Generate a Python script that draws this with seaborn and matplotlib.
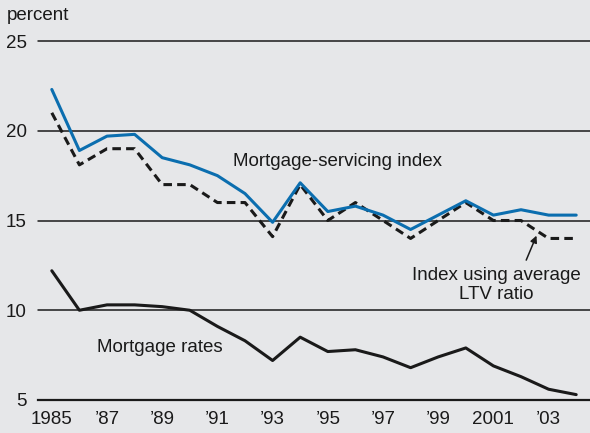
import numpy as np
import pandas as pd
import matplotlib
matplotlib.use('Agg')
import matplotlib.pyplot as plt
import seaborn as sns

# Data
years = list(range(1985, 2005))
servicing_index = [22.3, 18.9, 19.7, 19.8, 18.5, 18.1, 17.5, 16.5, 14.9, 17.1,
                   15.5, 15.8, 15.3, 14.5, 15.3, 16.1, 15.3, 15.6, 15.3, 15.3]
ltv_index = [21.0, 18.1, 19.0, 19.0, 17.0, 17.0, 16.0, 16.0, 14.1, 17.0,
             15.0, 16.0, 15.0, 14.0, 15.0, 16.0, 15.0, 15.0, 14.0, 14.0]
mortgage_rates = [12.2, 10.0, 10.3, 10.3, 10.2, 10.0, 9.1, 8.3, 7.2, 8.5,
                  7.7, 7.8, 7.4, 6.8, 7.4, 7.9, 6.9, 6.3, 5.6, 5.3]
tick_years = [1985, 1987, 1989, 1991, 1993, 1995, 1997, 1999, 2001, 2003]
tick_labels = ['1985', '\u201987', '\u201989', '\u201991', '\u201993',
               '\u201995', '\u201997', '\u201999', '2001', '\u201903']
y_ticks = [5, 10, 15, 20, 25]

bg = '#e6e7e9'
blue = '#0b6eaf'
ink = '#1a1a1a'
fs = 13.5

sns.set_style('white')
plt.rcParams['font.family'] = ['Liberation Sans', 'DejaVu Sans']

df = pd.DataFrame({
    'year': years * 3,
    'value': servicing_index + ltv_index + mortgage_rates,
    'series': (['servicing'] * len(years) + ['ltv'] * len(years)
               + ['rates'] * len(years)),
})

fig = plt.figure(figsize=(5.9, 4.33), dpi=100, facecolor=bg)
ax = fig.add_axes([38 / 590, 1 - 400 / 433, 1 - 38 / 590, (400 - 41) / 433])
ax.set_facecolor(bg)

# horizontal reference lines
for v in y_ticks[1:]:
    ax.axhline(v, color=ink, lw=1.1, zorder=1, clip_on=False)

sns.lineplot(data=df[df.series == 'rates'], x='year', y='value', color=ink,
             lw=2.2, ax=ax, zorder=3)
sns.lineplot(data=df[df.series == 'ltv'], x='year', y='value', color=ink,
             lw=2.2, ax=ax, zorder=3)
ax.lines[-1].set_dashes((2.8, 1.7))
sns.lineplot(data=df[df.series == 'servicing'], x='year', y='value',
             color=blue, lw=2.2, ax=ax, zorder=4)

ax.set_xlim(1984.5, 2004.5)
ax.set_ylim(5, 25)

for s in ['top', 'right', 'left']:
    ax.spines[s].set_visible(False)
ax.spines['bottom'].set_color(ink)
ax.spines['bottom'].set_linewidth(1.6)

ax.set_xticks(tick_years)
ax.set_xticklabels(tick_labels)
ax.set_xticks(np.arange(1984.5, 2004.5, 1), minor=True)
ax.tick_params(axis='x', which='major', length=0, pad=8, labelsize=fs,
               labelcolor=ink)
ax.tick_params(axis='x', which='minor', direction='in', length=5, width=1.3,
               color=ink)
ax.set_yticks(y_ticks)
ax.tick_params(axis='y', length=0, pad=8, labelsize=fs, labelcolor=ink)
ax.set_xlabel('')
ax.set_ylabel('')

fig.text(7 / 590, 1 - 16 / 433, 'percent', fontsize=fs, color=ink,
         va='center', ha='left')

ax.text(1991.55, 18.3, 'Mortgage-servicing index', fontsize=fs, color=ink,
        ha='left', va='center')
ax.text(1986.65, 7.9, 'Mortgage rates', fontsize=fs, color=ink,
        ha='left', va='center')
ax.text(2001.1, 11.4, 'Index using average\nLTV ratio', fontsize=fs,
        color=ink, ha='center', va='center', linespacing=1.15)
ax.annotate('', xy=(2002.6, 14.3), xytext=(2002.15, 12.65),
            arrowprops=dict(arrowstyle='-|>', color=ink, lw=1.1,
                            mutation_scale=10))

fig.savefig('out.png', dpi=100, facecolor=bg)
